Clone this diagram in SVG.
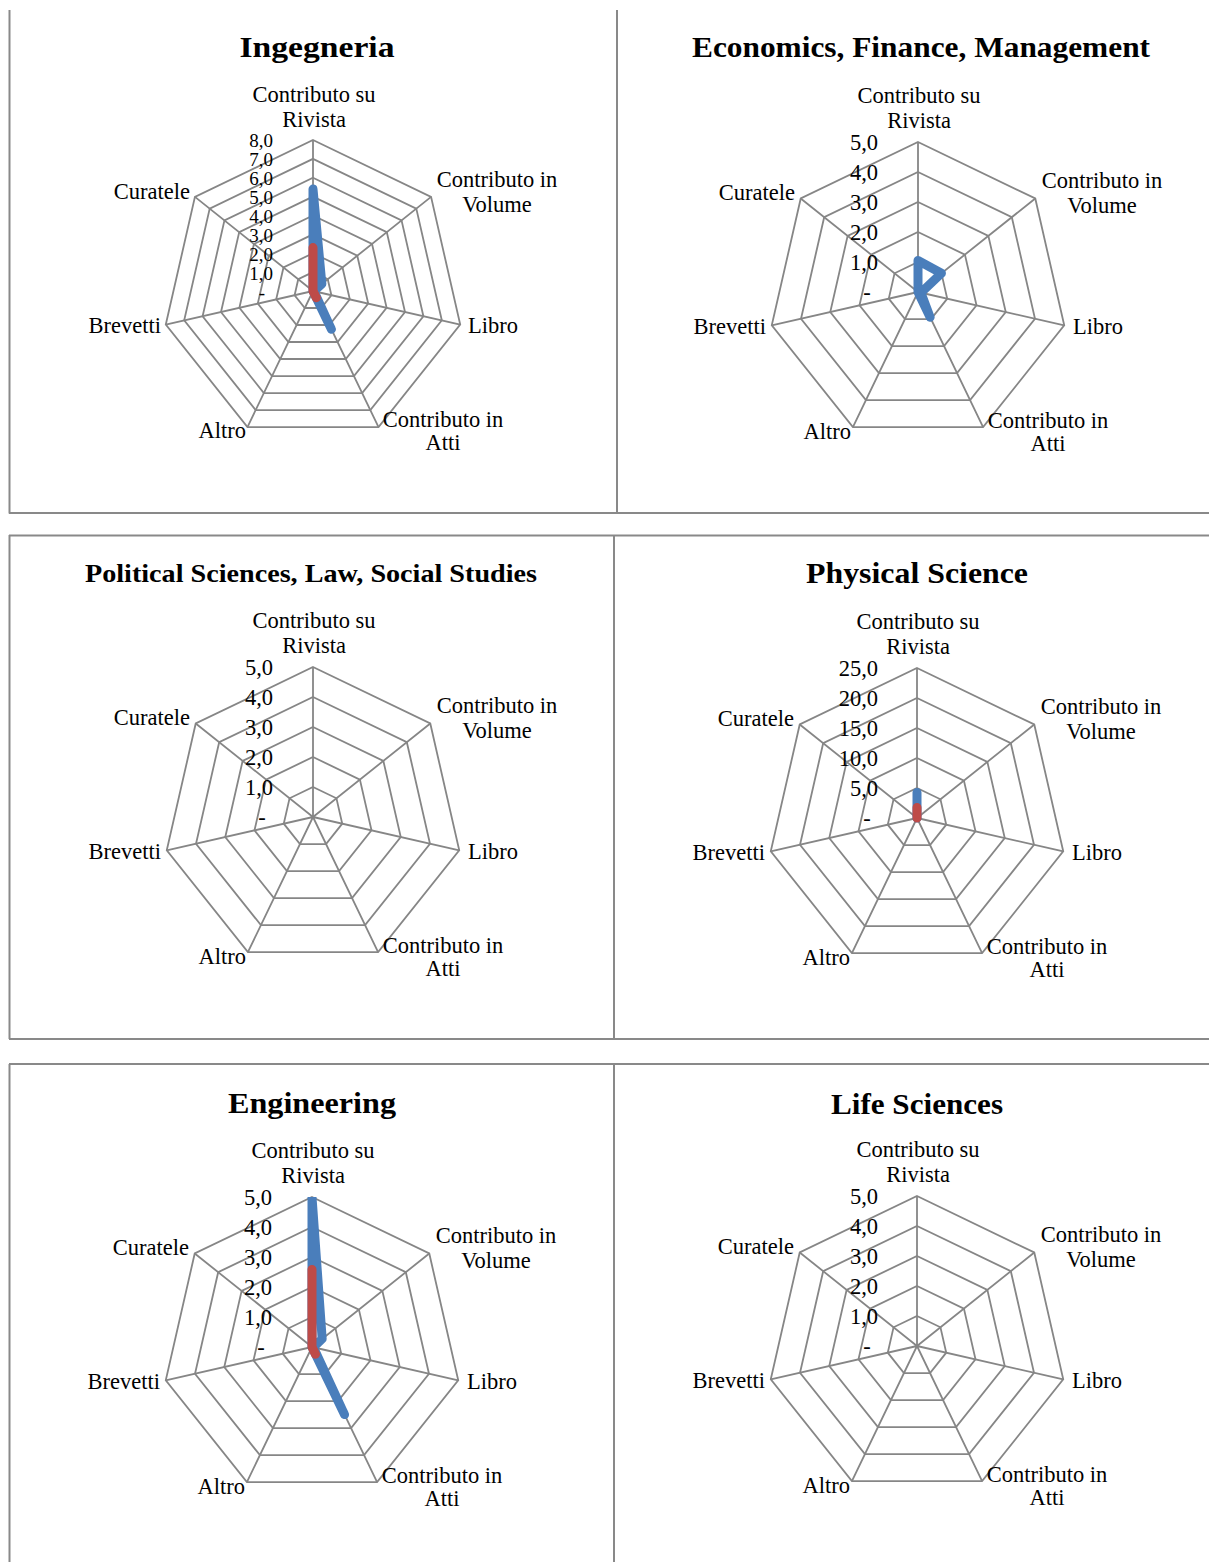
<svg xmlns="http://www.w3.org/2000/svg" xmlns:xlink="http://www.w3.org/1999/xlink" width="1209" height="1562" viewBox="0 0 1209 1562">
<style>
.grid{fill:none;stroke:#868686;stroke-width:1.8}
.s1{fill:none;stroke:#4A7EBB;stroke-width:9;stroke-linejoin:round;stroke-linecap:round}
.s2{fill:none;stroke:#BE4B48;stroke-width:9;stroke-linejoin:round;stroke-linecap:round}
.frame{fill:none;stroke:#898989;stroke-width:2}
.lbl{font-family:"Liberation Serif","Times New Roman",serif;font-size:22.5px;fill:#000}
.t8{font-size:19px}
.m{text-anchor:middle}
.e{text-anchor:end}
.title{font-family:"Liberation Serif","Times New Roman",serif;font-weight:bold;font-size:29px;fill:#000;text-anchor:middle}
</style>
<defs>
<g id="grid5" class="grid">
<polygon points="0,-30 23.45,-18.70 29.25,6.68 13.02,27.03 -13.02,27.03 -29.25,6.68 -23.45,-18.70"/>
<polygon points="0,-60 46.91,-37.41 58.50,13.35 26.03,54.06 -26.03,54.06 -58.50,13.35 -46.91,-37.41"/>
<polygon points="0,-90 70.36,-56.11 87.74,20.03 39.05,81.09 -39.05,81.09 -87.74,20.03 -70.36,-56.11"/>
<polygon points="0,-120 93.82,-74.82 116.99,26.70 52.07,108.12 -52.07,108.12 -116.99,26.70 -93.82,-74.82"/>
<polygon points="0,-150 117.27,-93.52 146.24,33.38 65.08,135.15 -65.08,135.15 -146.24,33.38 -117.27,-93.52"/>
<path d="M0,0V-150M0,0L117.27,-93.52M0,0L146.24,33.38M0,0L65.08,135.15M0,0L-65.08,135.15M0,0L-146.24,33.38M0,0L-117.27,-93.52"/>
</g>
<g id="grid8" class="grid">
<polygon points="0,-18.88 14.76,-11.77 18.40,4.20 8.19,17.01 -8.19,17.01 -18.40,4.20 -14.76,-11.77"/>
<polygon points="0,-37.75 29.51,-23.54 36.80,8.40 16.38,34.01 -16.38,34.01 -36.80,8.40 -29.51,-23.54"/>
<polygon points="0,-56.63 44.27,-35.31 55.21,12.60 24.57,51.02 -24.57,51.02 -55.21,12.60 -44.27,-35.31"/>
<polygon points="0,-75.5 59.03,-47.07 73.61,16.80 32.76,68.02 -32.76,68.02 -73.61,16.80 -59.03,-47.07"/>
<polygon points="0,-94.38 73.79,-58.84 92.01,21.00 40.95,85.03 -40.95,85.03 -92.01,21.00 -73.79,-58.84"/>
<polygon points="0,-113.25 88.54,-70.61 110.41,25.20 49.14,102.03 -49.14,102.03 -110.41,25.20 -88.54,-70.61"/>
<polygon points="0,-132.13 103.30,-82.38 128.81,29.40 57.33,119.04 -57.33,119.04 -128.81,29.40 -103.30,-82.38"/>
<polygon points="0,-151 118.06,-94.15 147.21,33.60 65.52,136.05 -65.52,136.05 -147.21,33.60 -118.06,-94.15"/>
<path d="M0,0V-151M0,0L118.06,-94.15M0,0L147.21,33.60M0,0L65.52,136.05M0,0L-65.52,136.05M0,0L-147.21,33.60M0,0L-118.06,-94.15"/>
</g>
<clipPath id="clipTop" clipPathUnits="userSpaceOnUse"><rect x="-250" y="-150" width="500" height="400"/></clipPath>
</defs>

<g id="frames" class="frame">
<path d="M9.5,10V513.5M617,10V513.5M9,513H1209"/>
<path d="M9,535.5H1209M9.5,535V1039M614,535V1039M9,1039H1209"/>
<path d="M9,1064H1209M9.5,1064V1562M614,1064V1562"/>
</g>

<g id="chart-ingegneria" transform="translate(313,291)">
<text class="title" x="4" y="-234" textLength="155" lengthAdjust="spacingAndGlyphs">Ingegneria</text>
<use xlink:href="#grid8"/>
<polygon class="s1" points="0,-101.9 8.85,-7.06 0.92,0.21 18.43,38.27 0,0 0,0 0,0"/>
<polygon class="s2" points="0,-43.4 0,0 0,0 3.28,6.80 0,0 0,0 0,0"/>
<text class="lbl t8 e" x="-40" y="-144">8,0</text>
<text class="lbl t8 e" x="-40" y="-125">7,0</text>
<text class="lbl t8 e" x="-40" y="-106">6,0</text>
<text class="lbl t8 e" x="-40" y="-87">5,0</text>
<text class="lbl t8 e" x="-40" y="-68">4,0</text>
<text class="lbl t8 e" x="-40" y="-49">3,0</text>
<text class="lbl t8 e" x="-40" y="-30">2,0</text>
<text class="lbl t8 e" x="-40" y="-11">1,0</text>
<text class="lbl t8 m" x="-51" y="8">-</text>
<text class="lbl m" x="1" y="-189">Contributo su</text>
<text class="lbl m" x="1" y="-164">Rivista</text>
<text class="lbl m" x="184" y="-104">Contributo in</text>
<text class="lbl m" x="184" y="-79">Volume</text>
<text class="lbl" x="155" y="42">Libro</text>
<text class="lbl m" x="130" y="136">Contributo in</text>
<text class="lbl m" x="130" y="159">Atti</text>
<text class="lbl e" x="-67" y="147">Altro</text>
<text class="lbl e" x="-152" y="42">Brevetti</text>
<text class="lbl e" x="-123" y="-92">Curatele</text>
</g>

<g id="chart-economics" transform="translate(918,292)">
<text class="title" x="3" y="-235" textLength="458" lengthAdjust="spacingAndGlyphs">Economics, Finance, Management</text>
<use xlink:href="#grid5"/>
<polygon class="s1" points="0,-31.5 23.45,-18.70 2.92,0.67 12.15,25.23 0,0 0,0 0,0"/>
<text class="lbl e" x="-40" y="-142">5,0</text>
<text class="lbl e" x="-40" y="-112">4,0</text>
<text class="lbl e" x="-40" y="-82">3,0</text>
<text class="lbl e" x="-40" y="-52">2,0</text>
<text class="lbl e" x="-40" y="-22">1,0</text>
<text class="lbl m" x="-51" y="8">-</text>
<text class="lbl m" x="1" y="-189">Contributo su</text>
<text class="lbl m" x="1" y="-164">Rivista</text>
<text class="lbl m" x="184" y="-104">Contributo in</text>
<text class="lbl m" x="184" y="-79">Volume</text>
<text class="lbl" x="155" y="42">Libro</text>
<text class="lbl m" x="130" y="136">Contributo in</text>
<text class="lbl m" x="130" y="159">Atti</text>
<text class="lbl e" x="-67" y="147">Altro</text>
<text class="lbl e" x="-152" y="42">Brevetti</text>
<text class="lbl e" x="-123" y="-92">Curatele</text>
</g>

<g id="chart-political" transform="translate(313,817)">
<text class="title" x="-2" y="-235" textLength="452" lengthAdjust="spacingAndGlyphs" style="font-size:25px">Political Sciences, Law, Social Studies</text>
<use xlink:href="#grid5"/>
<text class="lbl e" x="-40" y="-142">5,0</text>
<text class="lbl e" x="-40" y="-112">4,0</text>
<text class="lbl e" x="-40" y="-82">3,0</text>
<text class="lbl e" x="-40" y="-52">2,0</text>
<text class="lbl e" x="-40" y="-22">1,0</text>
<text class="lbl m" x="-51" y="8">-</text>
<text class="lbl m" x="1" y="-189">Contributo su</text>
<text class="lbl m" x="1" y="-164">Rivista</text>
<text class="lbl m" x="184" y="-104">Contributo in</text>
<text class="lbl m" x="184" y="-79">Volume</text>
<text class="lbl" x="155" y="42">Libro</text>
<text class="lbl m" x="130" y="136">Contributo in</text>
<text class="lbl m" x="130" y="159">Atti</text>
<text class="lbl e" x="-67" y="147">Altro</text>
<text class="lbl e" x="-152" y="42">Brevetti</text>
<text class="lbl e" x="-123" y="-92">Curatele</text>
</g>

<g id="chart-physical" transform="translate(917,818)">
<text class="title" x="0" y="-235" textLength="222" lengthAdjust="spacingAndGlyphs">Physical Science</text>
<use xlink:href="#grid5"/>
<polygon class="s1" points="0,-25.5 0,0 0,0 0,0 0,0 0,0 0,0"/>
<polygon class="s2" points="0,-10.5 0,0 0,0 0,0 0,0 0,0 0,0"/>
<text class="lbl e" x="-39" y="-142">25,0</text>
<text class="lbl e" x="-39" y="-112">20,0</text>
<text class="lbl e" x="-39" y="-82">15,0</text>
<text class="lbl e" x="-39" y="-52">10,0</text>
<text class="lbl e" x="-39" y="-22">5,0</text>
<text class="lbl m" x="-50" y="8">-</text>
<text class="lbl m" x="1" y="-189">Contributo su</text>
<text class="lbl m" x="1" y="-164">Rivista</text>
<text class="lbl m" x="184" y="-104">Contributo in</text>
<text class="lbl m" x="184" y="-79">Volume</text>
<text class="lbl" x="155" y="42">Libro</text>
<text class="lbl m" x="130" y="136">Contributo in</text>
<text class="lbl m" x="130" y="159">Atti</text>
<text class="lbl e" x="-67" y="147">Altro</text>
<text class="lbl e" x="-152" y="42">Brevetti</text>
<text class="lbl e" x="-123" y="-92">Curatele</text>
</g>

<g id="chart-engineering" transform="translate(312,1347)">
<text class="title" x="0" y="-234" textLength="168" lengthAdjust="spacingAndGlyphs">Engineering</text>
<use xlink:href="#grid5"/>
<g clip-path="url(#clipTop)">
<polygon class="s1" points="0,-150 10.16,-8.11 1.5,0.33 32.54,67.57 0,0 0,0 0,0"/>
<polygon class="s2" points="0,-77.5 0,0 0,0 3.47,7.21 0,0 0,0 0,0"/>
</g>
<text class="lbl e" x="-40" y="-142">5,0</text>
<text class="lbl e" x="-40" y="-112">4,0</text>
<text class="lbl e" x="-40" y="-82">3,0</text>
<text class="lbl e" x="-40" y="-52">2,0</text>
<text class="lbl e" x="-40" y="-22">1,0</text>
<text class="lbl m" x="-51" y="8">-</text>
<text class="lbl m" x="1" y="-189">Contributo su</text>
<text class="lbl m" x="1" y="-164">Rivista</text>
<text class="lbl m" x="184" y="-104">Contributo in</text>
<text class="lbl m" x="184" y="-79">Volume</text>
<text class="lbl" x="155" y="42">Libro</text>
<text class="lbl m" x="130" y="136">Contributo in</text>
<text class="lbl m" x="130" y="159">Atti</text>
<text class="lbl e" x="-67" y="147">Altro</text>
<text class="lbl e" x="-152" y="42">Brevetti</text>
<text class="lbl e" x="-123" y="-92">Curatele</text>
</g>

<g id="chart-life" transform="translate(917,1346)">
<text class="title" x="0" y="-232" textLength="172" lengthAdjust="spacingAndGlyphs">Life Sciences</text>
<use xlink:href="#grid5"/>
<text class="lbl e" x="-39" y="-142">5,0</text>
<text class="lbl e" x="-39" y="-112">4,0</text>
<text class="lbl e" x="-39" y="-82">3,0</text>
<text class="lbl e" x="-39" y="-52">2,0</text>
<text class="lbl e" x="-39" y="-22">1,0</text>
<text class="lbl m" x="-50" y="8">-</text>
<text class="lbl m" x="1" y="-189">Contributo su</text>
<text class="lbl m" x="1" y="-164">Rivista</text>
<text class="lbl m" x="184" y="-104">Contributo in</text>
<text class="lbl m" x="184" y="-79">Volume</text>
<text class="lbl" x="155" y="42">Libro</text>
<text class="lbl m" x="130" y="136">Contributo in</text>
<text class="lbl m" x="130" y="159">Atti</text>
<text class="lbl e" x="-67" y="147">Altro</text>
<text class="lbl e" x="-152" y="42">Brevetti</text>
<text class="lbl e" x="-123" y="-92">Curatele</text>
</g>
</svg>
